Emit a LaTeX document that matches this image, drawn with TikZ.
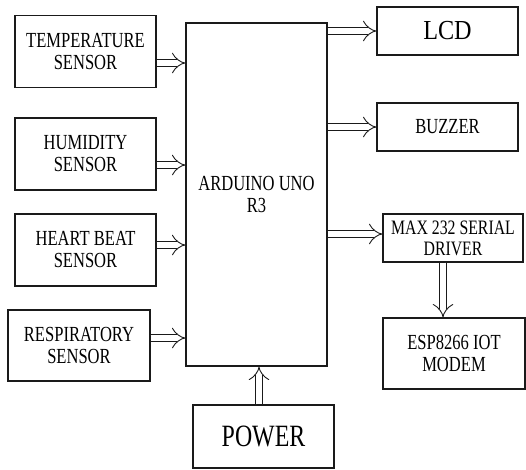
\documentclass[tikz,border=0pt]{standalone}
\usepackage{fontspec}
\setmainfont[FakeStretch=0.77]{Liberation Serif}
\newfontfamily\lcdfont[FakeStretch=0.88]{Liberation Serif}
\usepackage{tikz}
\usetikzlibrary{arrows.meta,positioning}
\definecolor{boxline}{HTML}{1A1A1A}
\tikzset{
  blockbox/.style={
    draw=boxline,
    line width=1.1pt,
    align=center,
    inner sep=2pt,
    minimum width=141pt,
    minimum height=72pt,
    font=\rmfamily\fontsize{21.5}{22}\selectfont
  },
  smallbox/.style={
    blockbox,
    minimum height=48pt
  },
  busarrow/.style={
    draw=boxline,
    double,
    double distance=6.5pt,
    line width=0.9pt,
    -{Implies}
  }
}
\begin{document}
\begin{tikzpicture}[x=1pt,y=-1pt]
\useasboundingbox (0,0) rectangle (526,469);
% sensors on the left
\node[blockbox] (temp) at (85.5,51.5) {TEMPERATURE\\SENSOR};
\node[blockbox] (hum) at (85.5,154) {HUMIDITY\\SENSOR};
\node[blockbox] (heart) at (85.5,250) {HEART BEAT\\SENSOR};
\node[blockbox, minimum width=142pt, minimum height=71pt] (resp) at (79,345.5) {RESPIRATORY\\SENSOR};

% controller
\node[blockbox, minimum height=343pt] (ard) at (256.5,194.5) {ARDUINO UNO\\R3};
\node[blockbox, minimum height=63pt, font=\rmfamily\fontsize{31}{32}\selectfont] (power) at (263.5,436.5) {POWER};

% outputs on the right
\node[smallbox, font=\lcdfont\fontsize{27.5}{28}\selectfont] (lcd) at (447.5,31) {LCD};
\node[smallbox] (buzz) at (447.5,127) {BUZZER};
\node[smallbox, minimum width=140pt, font=\rmfamily\fontsize{20.5}{21}\selectfont] (max) at (453,238) {MAX 232 SERIAL\\DRIVER};
\node[blockbox, minimum width=142pt, minimum height=71pt] (esp) at (454,353.5) {ESP8266 IOT\\MODEM};

\draw[busarrow] ([yshift=-11.5pt]temp.east) -- ([yshift=-11.5pt]temp.east -| ard.west);
\draw[busarrow] ([yshift=-11pt]hum.east) -- ([yshift=-11pt]hum.east -| ard.west);
\draw[busarrow] ([yshift=5pt]heart.east) -- ([yshift=5pt]heart.east -| ard.west);
\draw[busarrow] ([yshift=7.5pt]resp.east) -- ([yshift=7.5pt]resp.east -| ard.west);
\draw[busarrow] (ard.east |- lcd.west) -- (lcd.west);
\draw[busarrow] (ard.east |- buzz.west) -- (buzz.west);
\draw[busarrow] ([yshift=4pt]ard.east |- max.west) -- ([yshift=4pt]max.west);
\draw[busarrow] ([xshift=-10pt]max.south) -- ([xshift=-10pt]max.south |- esp.north);
\draw[busarrow] ([xshift=-4.5pt]power.north) -- ([xshift=-4.5pt]power.north |- ard.south);
\end{tikzpicture}
\end{document}
